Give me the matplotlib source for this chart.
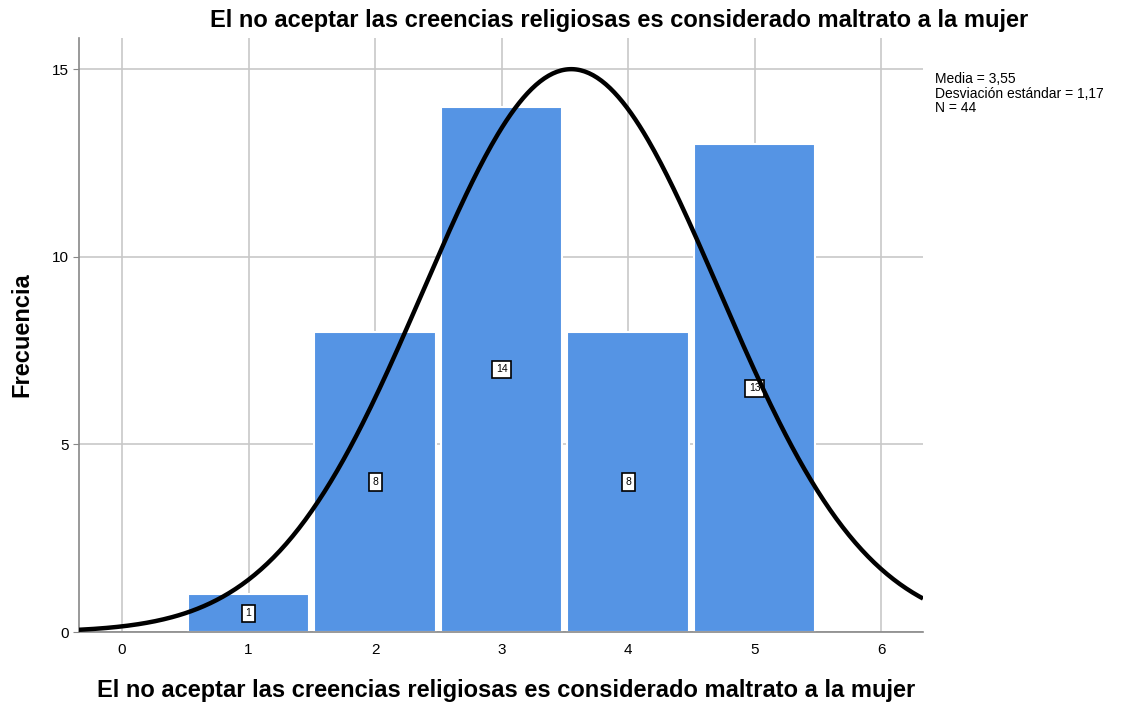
import numpy as np
import matplotlib.pyplot as plt

valores = [1, 2, 3, 4, 5]
frecuencias = [1, 8, 14, 8, 13]
media = 3.55
desv = 1.17
n = 44
titulo = "El no aceptar las creencias religiosas es considerado maltrato a la mujer"

plt.rcParams['font.family'] = ['Liberation Sans', 'DejaVu Sans']

fig = plt.figure(figsize=(11.33, 7.06), dpi=100)
ax = fig.add_axes([0.0697, 0.1048, 0.745, 0.8412])

ax.set_axisbelow(True)
ax.grid(True, color='#c8c8c8', linewidth=1.2)

ax.bar(valores, frecuencias, width=0.96, color='#5594e4', edgecolor='white', linewidth=1.5, zorder=2)

# etiquetas de frecuencia en el centro de cada barra
for v, f in zip(valores, frecuencias):
    ax.text(v, f / 2, str(f), ha='center', va='center', fontsize=7.5, zorder=3,
            bbox=dict(boxstyle='square,pad=0.35', facecolor='white', edgecolor='black', linewidth=1.2))

# curva normal
xs = np.linspace(-0.34, 6.33, 400)
ys = n * np.exp(-0.5 * ((xs - media) / desv) ** 2) / (desv * np.sqrt(2 * np.pi))
ax.plot(xs, ys, color='black', linewidth=3.2, zorder=4, solid_capstyle='butt')

ax.set_xlim(-0.34, 6.33)
ax.set_ylim(0, 15.83)
ax.set_xticks(range(0, 7))
ax.set_yticks([0, 5, 10, 15])
ax.tick_params(axis='x', length=0, pad=8, labelsize=11)
ax.tick_params(axis='y', length=4, color='#888888', labelsize=11)

for s in ['top', 'right']:
    ax.spines[s].set_visible(False)
ax.spines['left'].set_color('#888888')
ax.spines['bottom'].set_color('#888888')
ax.spines['left'].set_linewidth(1.2)
ax.spines['bottom'].set_linewidth(1.2)

fig.text(619 / 1133, 1 - 20 / 706, titulo, fontsize=17, fontweight='bold', ha='center', va='center')
fig.text(506 / 1133, 1 - 691 / 706, titulo, fontsize=17, fontweight='bold', ha='center', va='center')
fig.text(22 / 1133, 1 - 335 / 706, "Frecuencia", fontsize=17, fontweight='bold', ha='center', va='center',
         rotation=90)

fig.text(0.825, 0.898, "Media = 3,55\nDesviación estándar = 1,17\nN = 44",
         fontsize=10, va='top', ha='left', linespacing=1.05)

fig.savefig('out.png', dpi=100)
